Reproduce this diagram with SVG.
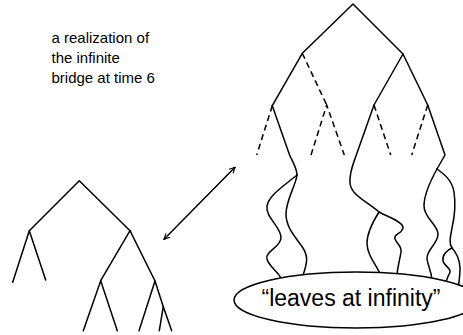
<svg xmlns="http://www.w3.org/2000/svg" width="463" height="335" viewBox="0 0 463 335">
  <defs>
    <style>
      .ln { fill: none; stroke: #000; stroke-width: 1.5; stroke-linecap: round; stroke-linejoin: round; }
      .ds { fill: none; stroke: #000; stroke-width: 1.5; stroke-dasharray: 6 4; }
      .lbl { font-family: "Liberation Sans", Arial, sans-serif; fill: #000; }
    </style>
    <marker id="ah" viewBox="0 0 10 10" refX="9" refY="5" markerWidth="7" markerHeight="7" orient="auto-start-reverse" markerUnits="userSpaceOnUse">
      <path d="M1,1 L9,5 L1,9" fill="none" stroke="#000" stroke-width="1.6"/>
    </marker>
  </defs>
  <rect width="463" height="335" fill="#fff"/>

  <g id="caption">
    <text class="lbl" font-size="15" x="51.5" y="43">a realization of</text>
    <text class="lbl" font-size="15" x="51.5" y="63">the infinite</text>
    <text class="lbl" font-size="15" x="51.5" y="83">bridge at time 6</text>
  </g>

  <g id="finite-tree">
    <path class="ln" d="M29.3,230.7 L79.3,180.7 L130,230.7"/>
    <path class="ln" d="M12.7,282.3 L29.3,230.7 L45.7,280"/>
    <path class="ln" d="M100.7,280.7 L130,230.7 L155,281"/>
    <path class="ln" d="M83.3,330.7 L100.7,280.7 L117.3,330.7"/>
    <path class="ln" d="M139,330.7 L155,281 L163.3,306.7 L171.7,330.7"/>
    <path class="ln" d="M159.3,330.7 L163.3,306.7"/>
  </g>

  <g id="infinite-tree">
    <path class="ln" d="M302.3,53.3 L353,4 L403,54"/>
    <path class="ln" d="M302.3,53.3 L272.3,105.7"/>
    <path class="ds" d="M302.3,53.3 L326.7,105"/>
    <path class="ln" d="M374,105 L403,54 L427.7,105"/>
    <path class="ds" d="M272.3,105.7 L256.7,155"/>
    <path class="ds" d="M311,155 L326.7,105 L344.3,155"/>
    <path class="ds" d="M374,105 L390.7,155"/>
    <path class="ds" d="M427.7,105 L411.7,155"/>
    <!-- group A -->
    <path class="ln" d="M272.3,105.7 L289.3,154.3 C292,161 297,168 297,175"/>
    <path class="ln" d="M297,175 C285,185 269,195 267,206 C265,217 282,228 281,238 C280,248 265,251 267,259 C269,267 279,272 282,280"/>
    <path class="ln" d="M297,175 C296,185 286,200 286,214 C286,229 298,240 303,248 C308,256 308,262 302,278"/>
    <!-- group B -->
    <path class="ln" d="M374,105 L357,153 C354,162 349,172 350,183 C351,195 366,201 379,212"/>
    <path class="ln" d="M379,212 C374,220 367,232 367,243 C367,256 377,265 381,276"/>
    <path class="ln" d="M379,212 C388,217 404,222 403,228 C402,234 393,234 395,239 C397,244 402,246 401,252 C400,260 397,266 397,278"/>
    <!-- group C -->
    <path class="ln" d="M427.7,105 L445,155 L437,169"/>
    <path class="ln" d="M437,169 C432,178 424,193 424,206 C424,218 438,225 438,234 C438,244 426,250 427,259 C428,266 431,270 432,280"/>
    <path class="ln" d="M437,169 C444,174 452,180 454,192 C456,205 455,215 452,228 C450,238 449,244 452,248"/>
    <path class="ln" d="M452,248 C447,250 442,255 443,261 C444,266 451,268 450,272 C449,276 446,278 446,284"/>
    <path class="ln" d="M452,248 C456,252 460,260 460,268 C460,276 459,281 458,290"/>
  </g>

  <g id="leaves-at-infinity">
    <ellipse cx="356" cy="300" rx="122" ry="28" fill="#fff" stroke="#000" stroke-width="1.5"/>
    <text class="lbl" font-size="23" x="351" y="306" text-anchor="middle">“leaves at infinity”</text>
  </g>

  <g id="connectors">
    <line class="ln" x1="164" y1="239.3" x2="235" y2="167.3" marker-start="url(#ah)" marker-end="url(#ah)"/>
  </g>
</svg>
